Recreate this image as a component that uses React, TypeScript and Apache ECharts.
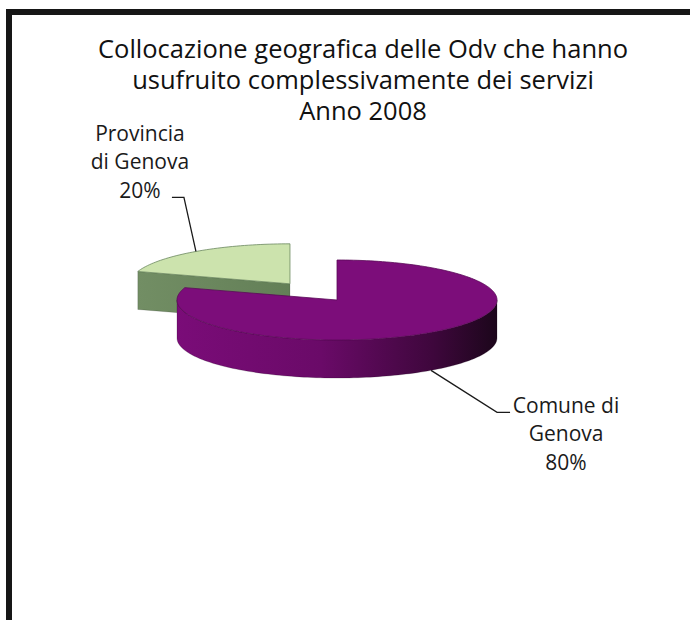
import React, { useEffect, useRef } from "react";
import * as echarts from "echarts";

// ---- data ----
const categories = ["Comune di\nGenova", "Provincia\ndi Genova"];
const values = [80, 20];
const exploded = [false, true];
const titleLines = [
  "Collocazione geografica delle Odv che hanno",
  "usufruito complessivamente dei servizi",
  "Anno 2008",
];

// ---- styles / layout ----
const topColors = ["#7c0d7a", "#cce3ad"];
const sideStops = [
  [
    { offset: 0, color: "#7a0c78" },
    { offset: 0.45, color: "#6a0a68" },
    { offset: 0.8, color: "#3e073c" },
    { offset: 1, color: "#1c061b" },
  ],
  [
    { offset: 0, color: "#728e64" },
    { offset: 1, color: "#637f57" },
  ],
];
const faceColors = ["#5a0a58", "#6b8860"];
const labelLayout = [
  { elbow: [66, 42], end: [13, 0], text: [56, -22] },
  { elbow: [-12, -54], end: [-12, 0], text: [-32, -79] },
];
const CX = 337;
const CY = 300;
const RX = 160;
const RY = 40;
const DEPTH = 38;
const EXPLODE = 80;
const FONT = "'Open Sans', Lato, sans-serif";

const total = values.reduce((a, b) => a + b, 0);
const starts: number[] = [];
values.reduce((acc, v, i) => {
  starts[i] = acc;
  return acc + v;
}, 0);

const mids = values.map((v, i) => ((starts[i] + v / 2) / total) * Math.PI * 2);
const ranks = mids.map((m) => mids.filter((o) => Math.cos(o) > Math.cos(m)).length);

function renderItem(params: any, api: any) {
  const i = params.dataIndex;
  const v = api.value(0) as number;
  const a0 = (starts[i] / total) * Math.PI * 2;
  const a1 = a0 + (v / total) * Math.PI * 2;
  const mid = (a0 + a1) / 2;
  let cx = CX;
  let cy = CY;
  if (exploded[i]) {
    cx += EXPLODE * Math.sin(mid);
    cy -= EXPLODE * (RY / RX) * Math.cos(mid);
  }
  const pt = (t: number, h: number) => [cx + RX * Math.sin(t), cy - RY * Math.cos(t) + h];
  const arc = (t0: number, t1: number, h: number) => {
    const n = Math.max(2, Math.ceil(Math.abs(t1 - t0) / (Math.PI / 120)));
    const out: number[][] = [];
    for (let k = 0; k <= n; k++) out.push(pt(t0 + ((t1 - t0) * k) / n, h));
    return out;
  };
  const zb = ranks[i] * 10;
  const children: any[] = [];
  const s0 = Math.max(a0, Math.PI / 2);
  const s1 = Math.min(a1, (Math.PI * 3) / 2);
  if (s1 > s0) {
    children.push({
      type: "polygon",
      z2: zb + 1,
      shape: { points: [...arc(s0, s1, 0), ...arc(s1, s0, DEPTH)] },
      style: {
        fill: { type: "linear", x: 0, y: 0, x2: 1, y2: 0, colorStops: sideStops[i] },
        stroke: "rgba(20,0,20,0.35)",
        lineWidth: 0.6,
      },
    });
  }
  const face = (t: number) => ({
    type: "polygon",
    z2: zb + 1,
    shape: { points: [[cx, cy], pt(t, 0), pt(t, DEPTH), [cx, cy + DEPTH]] },
    style: {
      fill: { type: "linear", x: 0, y: 0, x2: 1, y2: 0, colorStops: sideStops[i] },
      stroke: "rgba(0,0,0,0.25)",
      lineWidth: 0.6,
    },
  });
  if (Math.sin(a0) < -1e-6) children.push(face(a0));
  if (Math.sin(a1) > 1e-6) children.push(face(a1));
  children.push({
    type: "polygon",
    z2: zb + 2,
    shape: { points: [[cx, cy], ...arc(a0, a1, 0)] },
    style: { fill: topColors[i], stroke: faceColors[i], lineWidth: 0.8 },
  });
  const front = Math.cos(mid) < 0;
  const anchor = pt(mid, front ? DEPTH : 0);
  const L = labelLayout[i];
  const elbow = [anchor[0] + L.elbow[0], anchor[1] + L.elbow[1]];
  const end = [elbow[0] + L.end[0], elbow[1] + L.end[1]];
  children.push({
    type: "polyline",
    z2: 100,
    shape: { points: [anchor, elbow, end] },
    style: { stroke: "#1a1a1a", fill: "none", lineWidth: 1.3 },
  });
  const pct = Math.round((v / total) * 100);
  children.push({
    type: "text",
    z2: 100,
    x: end[0] + L.text[0],
    y: end[1] + L.text[1],
    style: {
      text: categories[i] + "\n" + pct + "%",
      fill: "#1a1a1a",
      fontSize: 21,
      fontWeight: 400,
      fontFamily: FONT,
      lineHeight: 28.5,
      align: "center",
      verticalAlign: "top",
    },
  });
  return { type: "group", children };
}

export default function App() {
  const ref = useRef<HTMLDivElement>(null);
  useEffect(() => {
    if (!ref.current) return;
    const chart = echarts.init(ref.current, undefined, { renderer: "svg" });
    chart.setOption({
      animation: false,
      backgroundColor: "#ffffff",
      title: {
        text: titleLines.join("\n"),
        left: 358,
        top: 27,
        textAlign: "center",
        textStyle: {
          fontSize: 25.5,
          fontWeight: 400,
          lineHeight: 31,
          fontFamily: FONT,
          color: "#111111",
        },
      },
      graphic: [
        { type: "rect", shape: { x: 6, y: 9, width: 684, height: 6 }, style: { fill: "#161616" } },
        { type: "rect", shape: { x: 6, y: 9, width: 6, height: 611 }, style: { fill: "#161616" } },
      ],
      series: [
        {
          type: "custom",
          coordinateSystem: "none",
          silent: true,
          renderItem,
          data: values.map((v, i) => ({ name: categories[i], value: [v] })),
        },
      ],
    });
    return () => chart.dispose();
  }, []);
  return (
    <div
      ref={ref}
      style={{ position: "fixed", left: 0, top: 0, width: 690, height: 620 }}
    />
  );
}
